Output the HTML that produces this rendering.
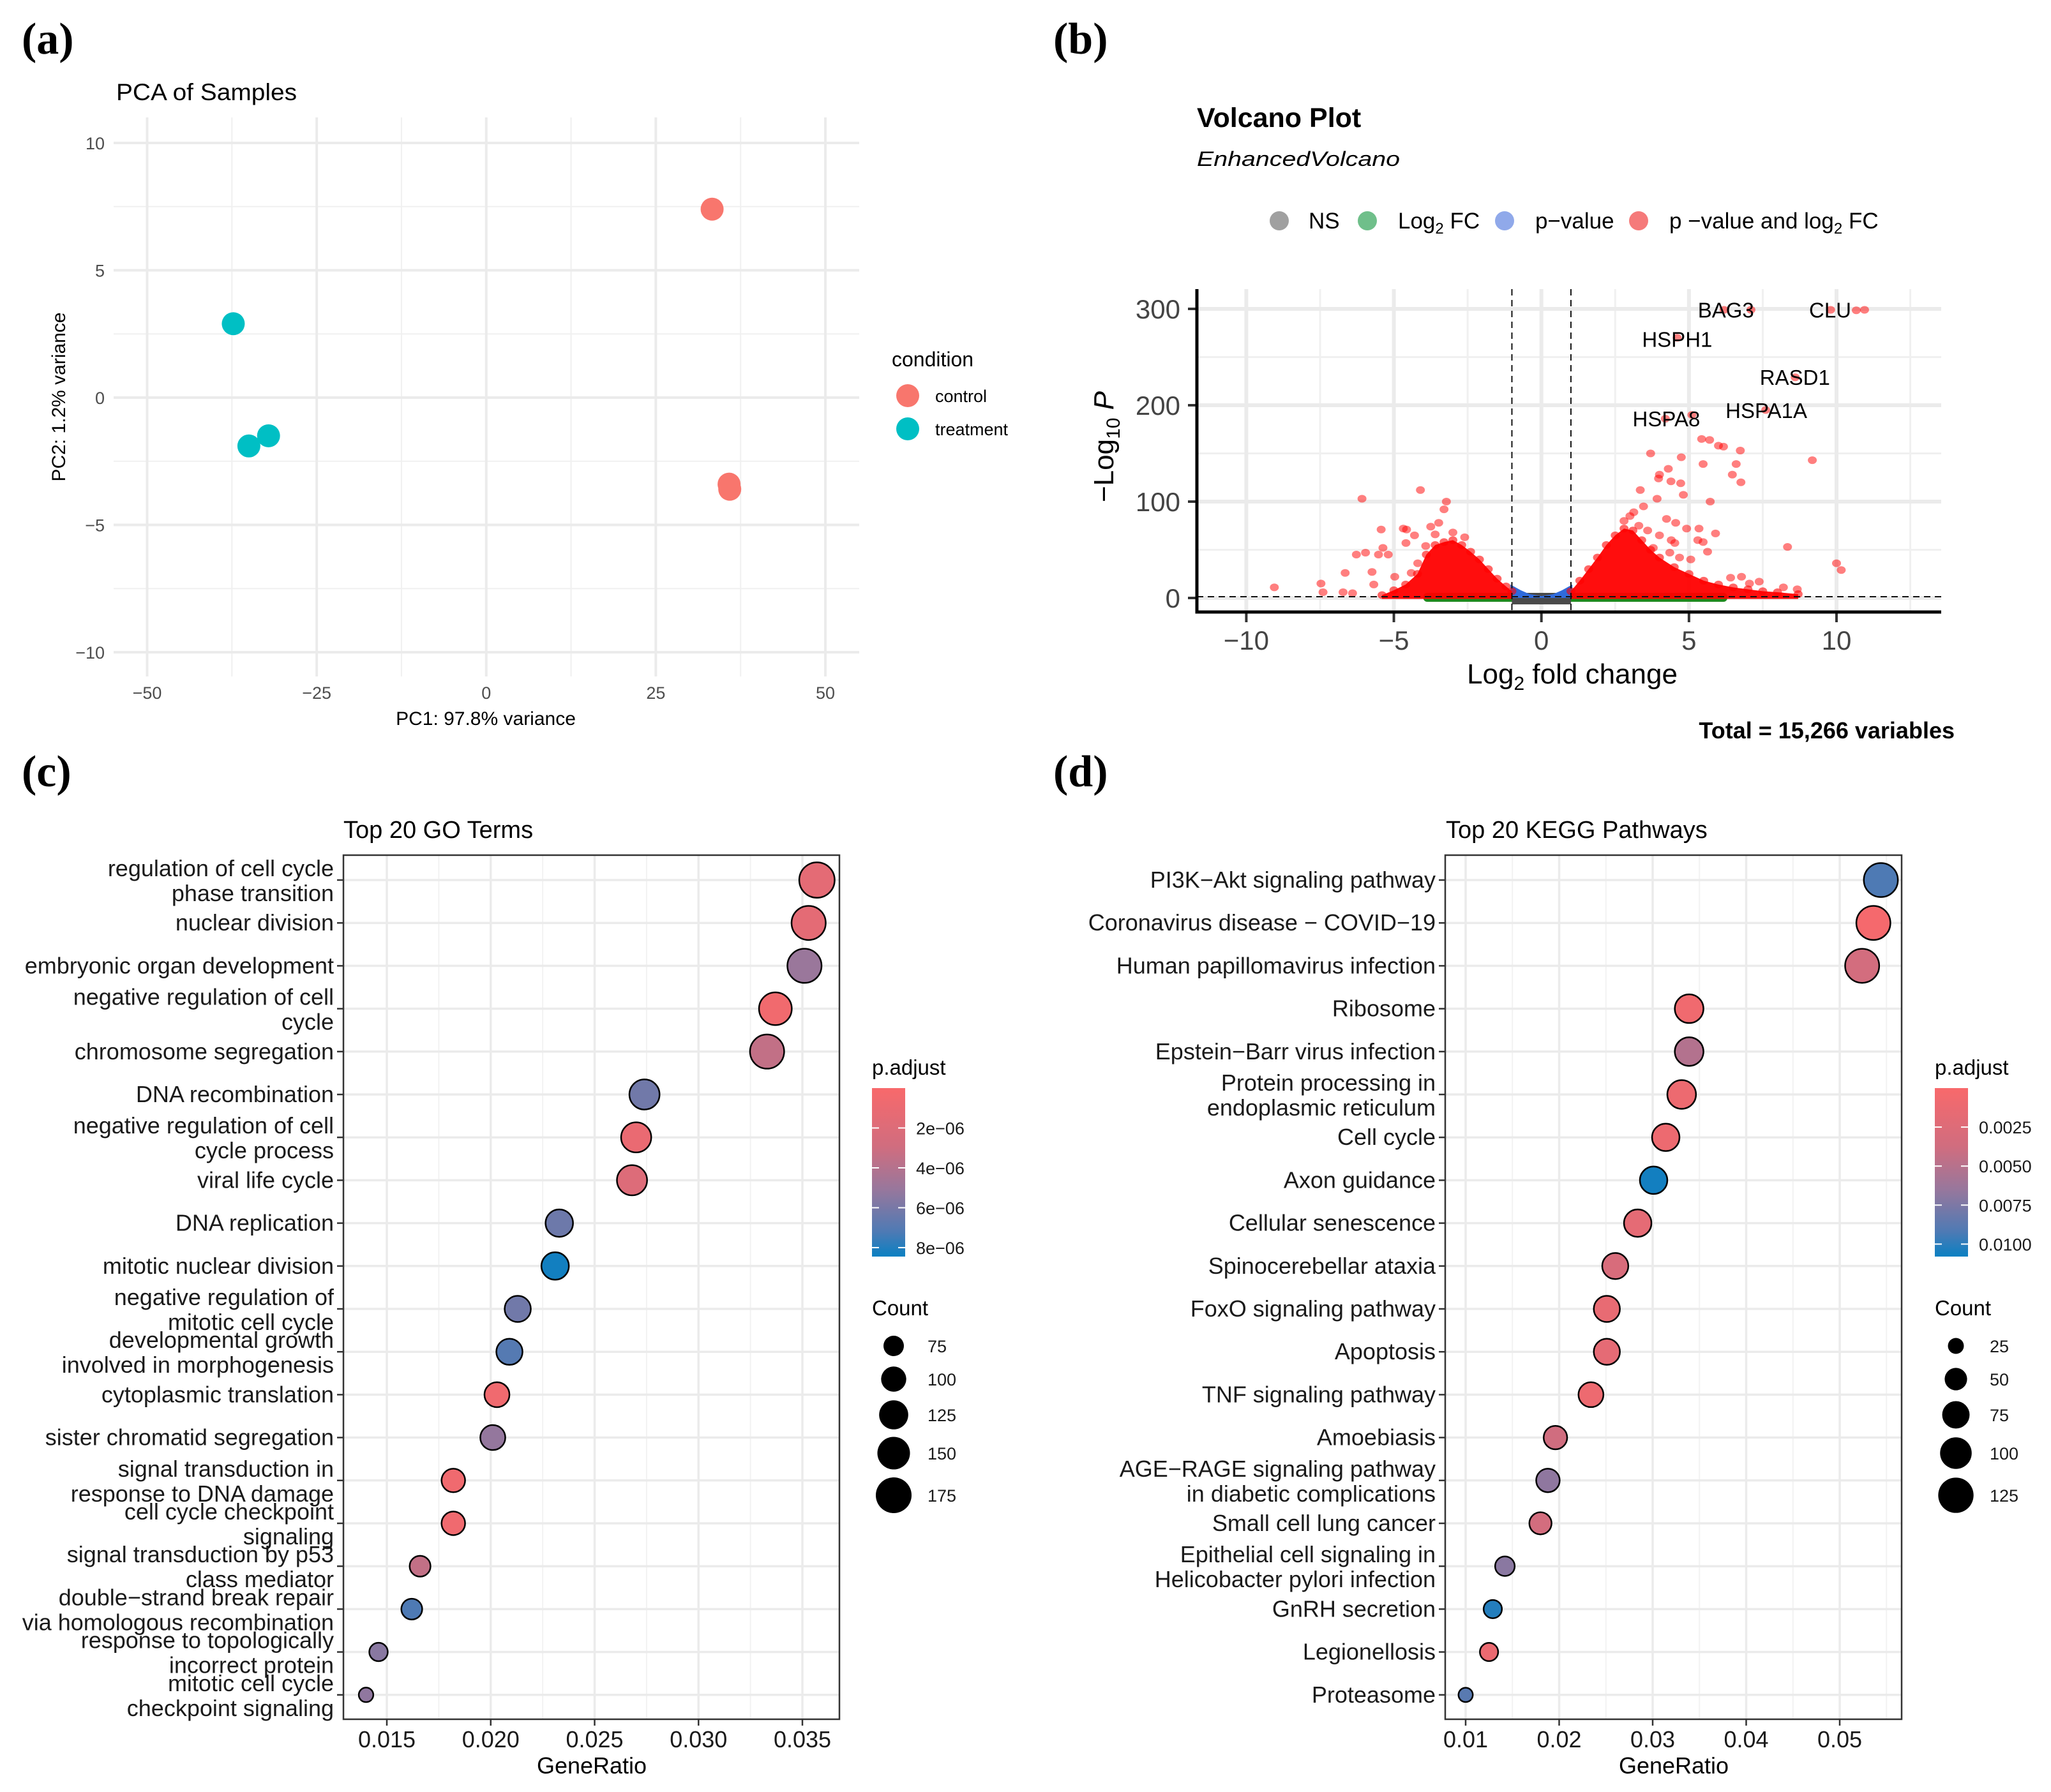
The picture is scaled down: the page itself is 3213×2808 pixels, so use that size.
<!DOCTYPE html>
<html><head><meta charset="utf-8"><title>Figure</title>
<style>
html,body{margin:0;padding:0;background:#fff;}
svg{display:block;font-family:"Liberation Sans",Arial,sans-serif;}
</style></head>
<body>
<svg id="fig" xmlns="http://www.w3.org/2000/svg" width="3213" height="2808" viewBox="0 0 3213 2808">
<rect x="0" y="0" width="3213" height="2808" fill="#fff"/>
<text x="34" y="84" font-family="Liberation Serif, serif" font-weight="bold" font-size="70">(a)</text>
<text x="1650" y="84" font-family="Liberation Serif, serif" font-weight="bold" font-size="70">(b)</text>
<text x="34" y="1232" font-family="Liberation Serif, serif" font-weight="bold" font-size="70">(c)</text>
<text x="1650" y="1232" font-family="Liberation Serif, serif" font-weight="bold" font-size="70">(d)</text>

<text x="182" y="157" font-size="37" textLength="283" lengthAdjust="spacingAndGlyphs">PCA of Samples</text>
<text x="761" y="1136" font-size="30" text-anchor="middle">PC1: 97.8% variance</text>
<text transform="translate(102,622) rotate(-90)" font-size="30" text-anchor="middle">PC2: 1.2% variance</text>
<text x="1397" y="574" font-size="32">condition</text>

<text x="1875" y="199" font-size="43" font-weight="bold">Volcano Plot</text>
<text x="1875" y="260" font-size="32" font-style="italic" textLength="318" lengthAdjust="spacingAndGlyphs">EnhancedVolcano</text>
<text x="2463" y="1071" font-size="44" text-anchor="middle">Log<tspan font-size="30" dy="10">2</tspan><tspan dy="-10"> fold change</tspan></text>
<text transform="translate(1744,700) rotate(-90)" font-size="44" text-anchor="middle">−Log<tspan font-size="30" dy="10">10</tspan><tspan dy="-10" font-style="italic"> P</tspan></text>
<text x="3062" y="1157" font-size="36" font-weight="bold" text-anchor="end">Total = 15,266 variables</text>

<text x="538" y="1313" font-size="38">Top 20 GO Terms</text>
<text x="927" y="2779" font-size="36" text-anchor="middle">GeneRatio</text>
<text x="2265" y="1313" font-size="38">Top 20 KEGG Pathways</text>
<text x="2622" y="2779" font-size="36" text-anchor="middle">GeneRatio</text>
<defs>
<linearGradient id="padjGrad" x1="0" y1="0" x2="0" y2="1">
<stop offset="0" stop-color="#f8696b"/><stop offset="0.35" stop-color="#d06d7f"/><stop offset="0.6" stop-color="#98779c"/><stop offset="0.85" stop-color="#4f7ab4"/><stop offset="1" stop-color="#0a80c2"/>
</linearGradient>
</defs>
</svg>
<script>
// ---------- PCA data ----------
const pcaGroups = ["control","control","control","treatment","treatment","treatment"];
const pcaPC1 = [33.3, 35.8, 35.9, -37.3, -35.0, -32.1];
const pcaPC2 = [7.4, -3.4, -3.6, 2.9, -1.9, -1.5];
const pcaXTicks = [-50, -25, 0, 25, 50];
const pcaYTicks = [-10, -5, 0, 5, 10];
const pcaLegendLabels = ["control", "treatment"];

// ---------- Volcano data ----------
const volOutX = [6.19,7.1,9.8,10.67,10.95,4.6,8.6,7.6,4.2,5.1,5.43,5.7,6.0,6.17,6.74,3.7,4.74,9.18,5.48,6.6,4.3,4.0,6.47,3.97,4.72,6.76,4.39,3.35,4.81,5.72,3.92,3.46,3.13,4.24,4.55,4.92,5.34,5.9,5.3,5.48,5.63,5.06,8.34,10.0,10.16,4.52,3.79,4.35,4.68,6.41,6.78,7.05,7.38,8.2,8.67,3.0,2.8,3.3,3.6,4.0,4.4,
 -9.05,-7.47,-7.4,-6.65,-6.72,-6.4,-6.27,-6.08,-5.96,-5.43,-5.37,-5.52,-5.19,-5.74,-5.68,-4.97,-4.68,-4.59,-4.1,-4.3,-4.19,-3.75,-3.48,-3.3,-3.22,-3.92,-4.57,-4.41,-3.6,-3.0,-2.6];
const volOutY = [299,299,299,298.5,299,270,229,195,186,190,165,164,158,157,153,150,146,143,139,139,134,128,128,124,119,120,121,112,107,100,103,95,89,82,78,72,72,67,60,58,48,40,53,36,29,57,52,47,42,21,22,15,17,11,9,85,80,75,70,65,60,
 11,15,6,26,6,5,45,103,47,71,52,45,45,27,14,22,72,57,112,65,36,74,78,92,100,54,71,26,66,68,63];
const volLeftEnvX = [-5.4,-5.0,-4.6,-4.2,-3.9,-3.6,-3.3,-3.0,-2.7,-2.4,-2.1,-1.8,-1.5,-1.2,-1.0];
const volLeftEnvY = [3,8,14,25,45,55,58,60,55,48,40,30,20,12,7];
const volRightEnvX = [1.0,1.3,1.6,1.9,2.2,2.5,2.8,3.1,3.4,3.7,4.0,4.5,5.0,5.5,6.0,6.5,7.0,7.5,8.0,8.7];
const volRightEnvY = [7,18,30,42,55,65,72,70,60,50,42,32,25,18,14,11,9,7,6,4];
const volBlueX = [-1.05,-0.7,-0.4,0,0.4,0.7,1.05];
const volBlueY = [14,8,4,2,4,8,14];
const volGreenRange = [-4.0, 6.3];
const volLabels = ["BAG3","CLU","HSPH1","RASD1","HSPA1A","HSPA8"];
const volLabelX = [5.3, 9.07, 3.41, 7.4, 6.24, 3.09];
const volLabelY = [299, 299, 268.6, 229, 194.6, 186];
const volXTicks = [-10, -5, 0, 5, 10];
const volYTicks = [0, 100, 200, 300];
const volFCcut = 1;
const volPcut = 1.3;
const volLegendLabels = ["NS","Log2 FC","p−value","p −value and log2 FC"];

// ---------- GO data ----------
const goTerms = ["regulation of cell cycle|phase transition","nuclear division","embryonic organ development","negative regulation of cell|cycle","chromosome segregation","DNA recombination","negative regulation of cell|cycle process","viral life cycle","DNA replication","mitotic nuclear division","negative regulation of|mitotic cell cycle","developmental growth|involved in morphogenesis","cytoplasmic translation","sister chromatid segregation","signal transduction in|response to DNA damage","cell cycle checkpoint|signaling","signal transduction by p53|class mediator","double−strand break repair|via homologous recombination","response to topologically|incorrect protein","mitotic cell cycle|checkpoint signaling"];
const goRatio = [0.0357,0.0353,0.0351,0.0337,0.0333,0.0274,0.0270,0.0268,0.0233,0.0231,0.0213,0.0209,0.0203,0.0201,0.0182,0.0182,0.0166,0.0162,0.0146,0.0140];
const goPadj = [1.5e-6,1.5e-6,5.0e-6,0.5e-6,3.5e-6,6.2e-6,1.0e-6,2.0e-6,6.3e-6,8.3e-6,6.2e-6,7.0e-6,0.6e-6,5.2e-6,0.6e-6,0.6e-6,3.5e-6,7.2e-6,5.5e-6,5.3e-6];
const goCount = [172,162,162,151,162,132,132,132,114,114,106,106,99,99,91,91,77,77,66,51];
const goXTicks = [0.015,0.020,0.025,0.030,0.035];
const goXTickLabels = ["0.015","0.020","0.025","0.030","0.035"];
const goPTicks = [2e-6,4e-6,6e-6,8e-6];
const goPTickLabels = ["2e−06","4e−06","6e−06","8e−06"];
const goCountTicks = [75,100,125,150,175];

// ---------- KEGG data ----------
const keggTerms = ["PI3K−Akt signaling pathway","Coronavirus disease − COVID−19","Human papillomavirus infection","Ribosome","Epstein−Barr virus infection","Protein processing in|endoplasmic reticulum","Cell cycle","Axon guidance","Cellular senescence","Spinocerebellar ataxia","FoxO signaling pathway","Apoptosis","TNF signaling pathway","Amoebiasis","AGE−RAGE signaling pathway|in diabetic complications","Small cell lung cancer","Epithelial cell signaling in|Helicobacter pylori infection","GnRH secretion","Legionellosis","Proteasome"];
const keggRatio = [0.0544,0.0536,0.0524,0.0339,0.0339,0.0331,0.0314,0.0301,0.0284,0.0260,0.0251,0.0251,0.0234,0.0196,0.0188,0.0180,0.0142,0.0129,0.0125,0.0100];
const keggPadj = [0.0092,0.0003,0.0035,0.0008,0.0052,0.0010,0.0010,0.0106,0.0018,0.0030,0.0015,0.0018,0.0010,0.0038,0.0068,0.0035,0.0070,0.0102,0.0012,0.0088];
const keggCount = [116,116,116,82,82,82,75,75,75,68,68,68,62,55,55,49,38,33,33,20];
const keggXTicks = [0.01,0.02,0.03,0.04,0.05];
const keggXTickLabels = ["0.01","0.02","0.03","0.04","0.05"];
const keggPTicks = [0.0025,0.005,0.0075,0.01];
const keggPTickLabels = ["0.0025","0.0050","0.0075","0.0100"];
const keggCountTicks = [25,50,75,100,125];

const NS = "http://www.w3.org/2000/svg";
const svg = document.getElementById("fig");
function mk(tag, parent, attrs) {
  const e = document.createElementNS(NS, tag);
  for (const k in attrs) e.setAttribute(k, attrs[k]);
  parent.appendChild(e);
  return e;
}
function grp(parent) { return mk("g", parent, {}); }

// ================= PANEL A =================
(function(){
  const g = grp(svg);
  
  
  const X = v => 761.75 + v * 10.625;
  const Y = v => 623 - v * 39.9;
  const L = 178, R = 1346, T = 184, B = 1060;
  for (let i = 0; i < pcaXTicks.length - 1; i++) {
    const m = (pcaXTicks[i] + pcaXTicks[i+1]) / 2;
    const ln = mk("line", g, {x1: X(m), x2: X(m), y1: T, y2: B, stroke: "#f0f0f0", "stroke-width": 2});
    
    
  }
  for (let i = 0; i < pcaYTicks.length - 1; i++) {
    const m = (pcaYTicks[i] + pcaYTicks[i+1]) / 2;
    const ln = mk("line", g, {x1: L, x2: R, y1: Y(m), y2: Y(m), stroke: "#f0f0f0", "stroke-width": 2});
    
    
  }
  pcaXTicks.forEach(v => {
    const ln = mk("line", g, {x1: X(v), x2: X(v), y1: T, y2: B, stroke: "#ebebeb", "stroke-width": 4});
    
    
    const t = mk("text", g, {x: X(v), y: 1095, "font-size": 27, fill: "#4d4d4d", "text-anchor": "middle"});
    t.textContent = String(v).replace("-", "−");
    
    
  });
  pcaYTicks.forEach(v => {
    const ln = mk("line", g, {x1: L, x2: R, y1: Y(v), y2: Y(v), stroke: "#ebebeb", "stroke-width": 4});
    
    
    const t = mk("text", g, {x: 164, y: Y(v) + 10, "font-size": 27, fill: "#4d4d4d", "text-anchor": "end"});
    t.textContent = String(v).replace("-", "−");
    
    
  });
  const col = {control: "#F8766D", treatment: "#00BFC4"};
  pcaPC1.forEach((v, i) => {
    const c = mk("circle", g, {cx: X(v), cy: Y(pcaPC2[i]), r: 18, fill: col[pcaGroups[i]]});
    
    
  });
  pcaLegendLabels.forEach((lab, i) => {
    const c = mk("circle", g, {cx: 1422, cy: 620 + i * 52, r: 18, fill: col[lab]});
    
    
    const t = mk("text", g, {x: 1465, y: 630 + i * 52, "font-size": 27});
    t.textContent = lab;
    
    
  });
})();

// ================= PANEL B =================
(function(){
  const g = grp(svg);
  
  
  const X = v => 2414.7 + v * 46.23;
  const Y = v => 937 - v * 1.51;
  const L = 1875, R = 3041, T = 453, B = 959;
  const xm = [];
  for (let i = 0; i < volXTicks.length - 1; i++) xm.push((volXTicks[i] + volXTicks[i+1]) / 2);
  xm.push(volXTicks[volXTicks.length-1] + 2.5);
  xm.forEach(v => {
    const ln = mk("line", g, {x1: X(v), x2: X(v), y1: T, y2: B, stroke: "#f0f0f0", "stroke-width": 3});
    
    
  });
  for (let i = 0; i < volYTicks.length - 1; i++) {
    const m = (volYTicks[i] + volYTicks[i+1]) / 2;
    const ln = mk("line", g, {x1: L, x2: R, y1: Y(m), y2: Y(m), stroke: "#f0f0f0", "stroke-width": 3});
    
    
  }
  volXTicks.forEach(v => {
    const ln = mk("line", g, {x1: X(v), x2: X(v), y1: T, y2: B, stroke: "#ebebeb", "stroke-width": 6});
    
    
    const tk = mk("line", g, {x1: X(v), x2: X(v), y1: B, y2: B + 16, stroke: "#333", "stroke-width": 4});
    
    
    const t = mk("text", g, {x: X(v), y: 1018, "font-size": 42, fill: "#444", "text-anchor": "middle"});
    t.textContent = String(v).replace("-", "−");
    
    
  });
  volYTicks.forEach(v => {
    const ln = mk("line", g, {x1: L, x2: R, y1: Y(v), y2: Y(v), stroke: "#ebebeb", "stroke-width": 6});
    
    
    const tk = mk("line", g, {x1: L - 14, x2: L, y1: Y(v), y2: Y(v), stroke: "#333", "stroke-width": 4});
    
    
    const t = mk("text", g, {x: 1849, y: Y(v) + 15, "font-size": 42, fill: "#444", "text-anchor": "end"});
    t.textContent = String(v);
    
    
  });
  // green FC only band
  const gn = mk("rect", g, {x: X(volGreenRange[0]), y: Y(volPcut) - 6, width: X(volGreenRange[1]) - X(volGreenRange[0]), height: 14, rx: 6, fill: "#1f8a1f"});
  
  
  // gray NS band
  const gr = mk("rect", g, {x: X(-volFCcut), y: Y(volPcut) - 6, width: X(volFCcut) - X(-volFCcut), height: 18, fill: "#4a4a4a"});
  
  
  // blue p-value only
  let bp = `${X(volBlueX[0])},${Y(0)} `;
  volBlueX.forEach((v, i) => { bp += `${X(v)},${Y(volBlueY[i])} `; });
  bp += `${X(volBlueX[volBlueX.length-1])},${Y(0)}`;
  const blue = mk("polygon", g, {points: bp, fill: "#2f6bdc"});
  
  
  function mass(xs, ys, name) {
    let p = `${X(xs[0])},${Y(-1)} `;
    xs.forEach((v, i) => { p += `${X(v)},${Y(ys[i])} `; });
    p += `${X(xs[xs.length-1])},${Y(-1)}`;
    const pg = mk("polygon", g, {points: p, fill: "#ff0000", "fill-opacity": 0.95});
    
    
    xs.forEach((v, i) => {
      const c = mk("ellipse", g, {cx: X(v), cy: Y(ys[i]), rx: 7, ry: 6, fill: "#ff0000", "fill-opacity": 0.6});
      
      
    });
  }
  mass(volLeftEnvX, volLeftEnvY, 'volcano-down-regulated-cloud');
  mass(volRightEnvX, volRightEnvY, 'volcano-up-regulated-cloud');
  volOutX.forEach((v, i) => {
    const c = mk("ellipse", g, {cx: X(v), cy: Y(volOutY[i]), rx: 7, ry: 6, fill: "#ff0000", "fill-opacity": 0.5});
    
    
  });
  [-volFCcut, volFCcut].forEach(v => {
    const ln = mk("line", g, {x1: X(v), x2: X(v), y1: T, y2: B, stroke: "#111", "stroke-width": 2, "stroke-dasharray": "10,7"});
    
    
  });
  const hl = mk("line", g, {x1: L, x2: R, y1: Y(volPcut), y2: Y(volPcut), stroke: "#111", "stroke-width": 2, "stroke-dasharray": "10,7"});
  
  
  const ax1 = mk("line", g, {x1: L, x2: L, y1: T, y2: B + 2.5, stroke: "#000", "stroke-width": 5});
  
  
  const ax2 = mk("line", g, {x1: L - 2.5, x2: R, y1: B, y2: B, stroke: "#000", "stroke-width": 5});
  
  
  volLabels.forEach((lab, i) => {
    const t = mk("text", g, {x: X(volLabelX[i]), y: Y(volLabelY[i]) + 12, "font-size": 33});
    t.textContent = lab;
    
    
  });
  const lgCols = ["#a0a0a0", "#6fbf8a", "#90a9ea", "#f57a7a"];
  const lgDotX = [2004, 2142, 2357, 2567];
  const lgTxtX = [2050, 2190, 2405, 2615];
  volLegendLabels.forEach((lab, i) => {
    const c = mk("circle", g, {cx: lgDotX[i], cy: 346, r: 15, fill: lgCols[i]});
    
    
    const t = mk("text", g, {x: lgTxtX[i], y: 358, "font-size": 35});
    if (lab.indexOf("2") >= 0) {
      const parts = lab.split("2");
      const a = mk("tspan", t, {}); a.textContent = parts[0];
      const b = mk("tspan", t, {"font-size": 24, dy: 8}); b.textContent = "2";
      const c2 = mk("tspan", t, {dy: -8}); c2.textContent = parts[1];
    } else t.textContent = lab;
    
    
  });
})();

// ================= DOT PLOTS =================
const palette = [[0,[248,105,107]],[0.35,[208,109,127]],[0.6,[152,119,156]],[0.85,[79,122,180]],[1,[10,128,194]]];
function colAt(t) {
  t = Math.max(0, Math.min(1, t));
  for (let i = 0; i < palette.length - 1; i++) {
    const [a, ca] = palette[i], [b, cb] = palette[i+1];
    if (t <= b) {
      const f = (t - a) / (b - a);
      const c = ca.map((v, k) => Math.round(v + (cb[k] - v) * f));
      return `rgb(${c[0]},${c[1]},${c[2]})`;
    }
  }
  return "rgb(10,128,194)";
}
function dotplot(cfg) {
  const g = grp(svg);
  
  
  const X = v => cfg.x0 + (v - cfg.v0) * cfg.k;
  const rowY = i => 1379 + i * 67.2;
  const L = cfg.L, R = cfg.R, T = 1340, B = 2694;
  const step = cfg.ticks[1] - cfg.ticks[0];
  const minors = [];
  for (let v = cfg.ticks[0] - step / 2; v < cfg.ticks[cfg.ticks.length-1] + step; v += step) minors.push(v);
  minors.forEach(v => {
    if (X(v) <= L || X(v) >= R) return;
    const ln = mk("line", g, {x1: X(v), x2: X(v), y1: T, y2: B, stroke: "#f2f2f2", "stroke-width": 2});
    
    
  });
  cfg.ticks.forEach((v, i) => {
    const ln = mk("line", g, {x1: X(v), x2: X(v), y1: T, y2: B, stroke: "#ebebeb", "stroke-width": 3.5});
    
    
    const tk = mk("line", g, {x1: X(v), x2: X(v), y1: B, y2: B + 10, stroke: "#333", "stroke-width": 2.5});
    
    
    const t = mk("text", g, {x: X(v), y: 2738, "font-size": 36, fill: "#1a1a1a", "text-anchor": "middle"});
    t.textContent = cfg.tickLabels[i];
    
    
  });
  cfg.terms.forEach((term, i) => {
    const y = rowY(i);
    const ln = mk("line", g, {x1: L, x2: R, y1: y, y2: y, stroke: "#ebebeb", "stroke-width": 3.5});
    
    
    const tk = mk("line", g, {x1: L - 10, x2: L, y1: y, y2: y, stroke: "#333", "stroke-width": 2.5});
    
    
    const lines = term.split("|");
    const ys = lines.length === 1 ? [y + 12] : [y - 6, y + 33];
    lines.forEach((s, j) => {
      const t = mk("text", g, {x: L - 15, y: ys[j], "font-size": 36, fill: "#1a1a1a", "text-anchor": "end"});
      t.textContent = s;
      
      
    });
  });
  const border = mk("rect", g, {x: L, y: T, width: R - L, height: B - T, fill: "none", stroke: "#333", "stroke-width": 2.5});
  
  
  cfg.ratio.forEach((v, i) => {
    const c = mk("circle", g, {cx: X(v), cy: rowY(i), r: cfg.rad(cfg.count[i]), fill: colAt(cfg.padj[i] / cfg.pmax), stroke: "#000", "stroke-width": 2.5});
    
    
  });
  const lx = cfg.legX;
  const pt = mk("text", g, {x: lx, y: 1684, "font-size": 33});
  pt.textContent = "p.adjust";
  
  
  const bar = mk("rect", g, {x: lx, y: 1705, width: 52, height: 264, fill: "url(#padjGrad)"});
  
  
  cfg.pTicks.forEach((v, i) => {
    const y = 1705 + v / cfg.pmax * 264;
    const a = mk("line", g, {x1: lx, x2: lx + 11, y1: y, y2: y, stroke: "#fff", "stroke-width": 2});
    
    
    const b = mk("line", g, {x1: lx + 41, x2: lx + 52, y1: y, y2: y, stroke: "#fff", "stroke-width": 2});
    
    
    const t = mk("text", g, {x: lx + 69, y: y + 10, "font-size": 27, fill: "#1a1a1a"});
    t.textContent = cfg.pTickLabels[i];
    
    
  });
  const ct = mk("text", g, {x: lx, y: 2061, "font-size": 33});
  ct.textContent = "Count";
  
  
  const cy = [2109, 2161, 2217, 2277, 2343];
  cfg.countTicks.forEach((v, i) => {
    const c = mk("circle", g, {cx: lx + cfg.dotDx, cy: cy[i], r: cfg.rad(v), fill: "#000"});
    
    
    const t = mk("text", g, {x: lx + cfg.dotDx + 53, y: cy[i] + 10, "font-size": 27, fill: "#1a1a1a"});
    t.textContent = String(v);
    
    
  });
}
dotplot({name: "go", terms: goTerms, ratio: goRatio, padj: goPadj, count: goCount,
  ticks: goXTicks, tickLabels: goXTickLabels, pTicks: goPTicks, pTickLabels: goPTickLabels, countTicks: goCountTicks,
  x0: 606, v0: 0.015, k: 32550, L: 538, R: 1315, pmax: 8.45e-6, legX: 1366, dotDx: 34,
  rad: c => Math.sqrt(Math.max(60, 5.28 * c - 140))});
dotplot({name: "kegg", terms: keggTerms, ratio: keggRatio, padj: keggPadj, count: keggCount,
  ticks: keggXTicks, tickLabels: keggXTickLabels, pTicks: keggPTicks, pTickLabels: keggPTickLabels, countTicks: keggCountTicks,
  x0: 2296, v0: 0.01, k: 14650, L: 2264, R: 2979, pmax: 0.0108, legX: 3031, dotDx: 33,
  rad: c => Math.sqrt(6.1 * c + 3.5)});
</script>
</body></html>
